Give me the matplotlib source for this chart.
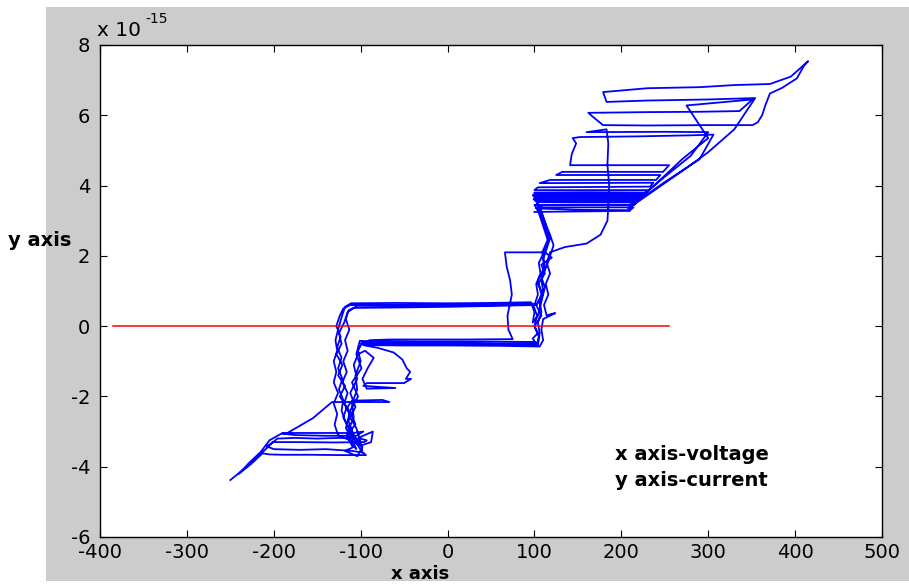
import numpy as np
import matplotlib
matplotlib.use("Agg")
import matplotlib.pyplot as plt
from matplotlib.patches import Rectangle

plt.rcParams['font.family'] = ['DejaVu Sans']
plt.rcParams['axes.unicode_minus'] = False

# ---------------- data (voltage in V, current in units of 1e-15 A) ----------------
tail_v = [-250, -241, -230, -219, -210, -203, -196, -175, -150, -125, -100, -93, -96, -130, -170, -201,
          -208, -200, -170, -140, -110, -97, -94, -120, -160, -190, -205, -213, -226, -240, -228, -215,
          -205, -190, -160, -130, -108, -97, -105, -140, -175, -190, -185, -155, -133, -100, -67, -75, -110]
tail_i = [-4.38, -4.2, -3.97, -3.72, -3.52, -3.35, -3.2, -3.18, -3.2, -3.18, -3.2, -3.25, -3.3, -3.31, -3.3, -3.3,
          -3.42, -3.5, -3.52, -3.5, -3.55, -3.6, -3.67, -3.67, -3.66, -3.66, -3.65, -3.62, -3.92, -4.2, -3.88, -3.58,
          -3.25, -3.04, -3.04, -3.04, -3.04, -3.0, -3.12, -3.12, -3.1, -3.06, -3.05, -2.62, -2.16, -2.16, -2.16, -2.1, -2.12]

loop1_v = [-115, -112, -105, -100, -98, -103, -112, -118, -122, -120, -125, -121, -126, -122, -127, -123, -128, -124,
           -120, -112, -70, -20, 30, 70, 98, 103, 100, 105, 103, 60, 0, -50, -98, -103, -100, -106, -104, -110,
           -108, -115, -112, -105, -110, -117, -113, -119, -115, -121, -116, -120, -115, -118, -113, -117, -114,
           -108, -60, 0, 60, 100]
loop1_i = [-2.3, -2.6, -2.9, -3.3, -3.6, -3.4, -3.0, -2.7, -2.4, -2.1, -1.8, -1.5, -1.2, -0.9, -0.6, -0.3, 0.0, 0.3,
           0.5, 0.6, 0.6, 0.61, 0.62, 0.63, 0.64, 0.3, 0.0, -0.3, -0.5, -0.5, -0.48, -0.47, -0.45, -0.7, -1.0, -1.4,
           -1.8, -2.2, -2.6, -3.0, -3.3, -3.5, -3.2, -2.9, -2.5, -2.2, -1.9, -1.6, -1.3, -1.0, -0.7, -0.4, -0.1,
           0.2, 0.45, 0.52, 0.53, 0.55, 0.58, 0.6]

rcol1_v = [104, 102, 107, 105, 111, 116, 112, 108, 104, 100, 150, 210, 214, 150, 104, 100, 217, 220, 150, 100, 98,
           160, 224, 228, 160, 100, 104, 108, 112, 118, 114, 110, 112, 108, 110, 106, 108, 104, 106, 104]
rcol1_i = [0.9, 1.2, 1.5, 1.8, 2.1, 2.4, 2.7, 3.0, 3.3, 3.45, 3.46, 3.45, 3.52, 3.53, 3.53, 3.6, 3.58, 3.66, 3.67,
           3.67, 3.73, 3.74, 3.73, 3.8, 3.81, 3.8, 3.4, 3.1, 2.8, 2.5, 2.2, 1.9, 1.6, 1.3, 1.0, 0.7, 0.4, 0.1, -0.2, -0.55]

bulge_v = [50, -20, -70, -100, -95, -80, -62, -52, -47, -43, -48, -42, -50, -60, -93, -97, -60, -93, -98, -92, -85,
           -95, -103, -108, -104, -112, -106, -114, -108, -103, -100, -86, -88, -100, -108, -126, -130, -127, -131,
           -126, -131, -128, -131, -127, -129, -126, -122, -118, -111, -60, 0, 50, 96]
bulge_i = [-0.53, -0.52, -0.5, -0.5, -0.55, -0.62, -0.75, -0.95, -1.2, -1.3, -1.5, -1.5, -1.62, -1.62, -1.62, -1.7,
           -1.76, -1.78, -1.5, -1.2, -0.9, -0.7, -0.8, -1.1, -1.5, -1.9, -2.3, -2.7, -3.1, -3.3, -3.15, -3.0, -3.3,
           -3.4, -3.3, -3.1, -2.8, -2.5, -2.2, -1.9, -1.6, -1.3, -1.0, -0.7, -0.4, -0.1, 0.25, 0.55, 0.65, 0.66,
           0.65, 0.66, 0.68]

rcol2_v = [100, 98, 104, 108, 112, 108, 114, 118, 122, 118, 113, 108, 102, 150, 210, 214, 110, 104, 215, 218, 104,
           100, 220, 224, 102, 100, 226, 230, 100, 104, 233, 237, 106, 118, 240, 245, 125, 132, 248, 255, 141]
rcol2_i = [0.4, 0.1, 0.3, 0.7, 1.1, 1.4, 1.7, 2.0, 2.3, 2.6, 2.9, 3.2, 3.35, 3.31, 3.3, 3.38, 3.38, 3.45, 3.45,
           3.53, 3.53, 3.6, 3.62, 3.69, 3.7, 3.78, 3.76, 3.87, 3.87, 3.95, 3.97, 4.08, 4.07, 4.16, 4.16, 4.3, 4.3,
           4.39, 4.39, 4.58, 4.58]

top_v = [143, 148, 144, 152, 220, 280, 306, 290, 250, 215, 208, 240, 275, 300, 330, 354, 300, 230, 183,
         179, 230, 290, 330, 371, 395, 415, 410, 402, 385, 371, 366, 362, 357, 351, 300, 230, 179, 170, 162, 230,
         290, 336, 351, 275, 300, 270, 240, 212, 245, 280, 300, 250, 160]
top_i = [4.9, 5.2, 5.35, 5.38, 5.4, 5.43, 5.45, 4.75, 4.1, 3.5, 3.35, 3.9, 4.5, 4.95, 5.6, 6.49, 6.45,
         6.42, 6.38, 6.66, 6.77, 6.8, 6.86, 6.89, 7.1, 7.54, 7.4, 7.05, 6.78, 6.62, 6.3, 6.0, 5.8, 5.72, 5.72,
         5.71, 5.72, 5.9, 6.07, 6.09, 6.1, 6.12, 6.45, 6.28, 5.35, 4.75, 4.05, 3.45, 4.15, 4.85, 5.52, 5.53, 5.52]

down_v = [183, 185, 184, 186, 185, 184, 176, 160, 135, 118, 114, 118, 113, 116, 111, 114, 120, 124, 110, 108,
          110, 106, 60, 0, -50, -96, -90, -66, 20, 75, 70, 69, 74, 72, 68, 66, 90, 112, 120, 108]
down_i = [5.6, 5.2, 4.6, 4.0, 3.4, 3.0, 2.6, 2.35, 2.25, 2.1, 1.8, 1.5, 1.2, 0.9, 0.6, 0.3, 0.35, 0.37, 0.2, -0.1,
          -0.4, -0.58, -0.56, -0.55, -0.55, -0.54, -0.4, -0.38, -0.38, -0.37, -0.1, 0.3, 0.9, 1.3, 1.7, 2.1, 2.1,
          2.1, 1.95, 1.75]

extra_v = [112, 104, 110, 102, 108, 100, 104, 98, 102, 101, 40, -30, -80, -101, -105, -99, -110, -103, -112, -106,
           -116, -109, -118, -104, -98, -107, -113, -120, -116, -124, -118, -126, -121, -128, -122, -125, -119, -115,
           -104, -50, 10, 80, 103, 108, 104, 112, 109, 116, 113, 109, 104, 99, 212, 210, 100]
extra_i = [1.5, 1.2, 0.9, 0.6, 0.3, 0.0, -0.2, -0.35, -0.5, -0.45, -0.44, -0.44, -0.43, -0.42, -0.8, -1.2, -1.6,
           -2.0, -2.4, -2.8, -3.1, -3.45, -3.55, -3.7, -3.45, -3.2, -2.9, -2.6, -2.3, -2.0, -1.7, -1.4, -1.1, -0.8,
           -0.5, -0.2, 0.1, 0.4, 0.58, 0.58, 0.59, 0.6, 0.62, 0.9, 1.3, 1.7, 2.1, 2.5, 2.9, 3.2, 3.5, 3.62, 3.6,
           3.28, 3.25]

zero_v = [-385, 255]
zero_i = [0, 0]

x_ticks = [-400, -300, -200, -100, 0, 100, 200, 300, 400, 500]
y_ticks = [-6, -4, -2, 0, 2, 4, 6, 8]

# ---------------- figure ----------------
W, H = 909, 584
fig = plt.figure(figsize=(W / 100, H / 100), dpi=100, facecolor='white')
fig.add_artist(Rectangle((46 / W, 3 / H), (W - 46) / W, (581 - 7) / H,
                         transform=fig.transFigure, facecolor='#cccccc', edgecolor='none', zorder=-10))

ax = fig.add_axes([100 / W, (H - 537) / H, (882 - 100) / W, (537 - 45) / H])
ax.set_facecolor('white')

volt = np.concatenate([tail_v, loop1_v, rcol1_v, bulge_v, rcol2_v, top_v, down_v, extra_v])
curr = np.concatenate([tail_i, loop1_i, rcol1_i, bulge_i, rcol2_i, top_i, down_i, extra_i])
ax.plot(volt, curr, color='#0000ff', lw=1.3)
ax.plot(zero_v, zero_i, color='#ff0000', lw=1.1)

ax.set_xlim(-400, 500)
ax.set_ylim(-6, 8)
ax.set_xticks(x_ticks)
ax.set_yticks(y_ticks)
ax.set_xticklabels([str(t) for t in x_ticks])
ax.set_yticklabels([str(t) for t in y_ticks])
ax.tick_params(direction='in', top=True, right=True, length=5, width=0.8, labelsize=14, colors='black')
ax.tick_params(axis='x', pad=4)
ax.tick_params(axis='y', pad=7)
for s in ax.spines.values():
    s.set_linewidth(1.0)
    s.set_color('black')

fig.text(97 / W, 1 - 36 / H, 'x 10', fontsize=14.5, ha='left', va='baseline')
fig.text(145 / W, 1 - 23 / H, '-15', fontsize=10, ha='left', va='baseline')

fig.text(8 / W, 1 - 241 / H, 'y axis', fontsize=14, weight='bold', ha='left', va='center')
fig.text(420 / W, 5 / H, 'x axis', fontsize=13, weight='bold', ha='center', va='baseline')
fig.text(615 / W, 1 - 460 / H, 'x axis-voltage', fontsize=14, weight='bold', ha='left', va='baseline')
fig.text(615 / W, 1 - 486 / H, 'y axis-current', fontsize=14, weight='bold', ha='left', va='baseline')

fig.savefig('out.png', dpi=100, facecolor='white')
